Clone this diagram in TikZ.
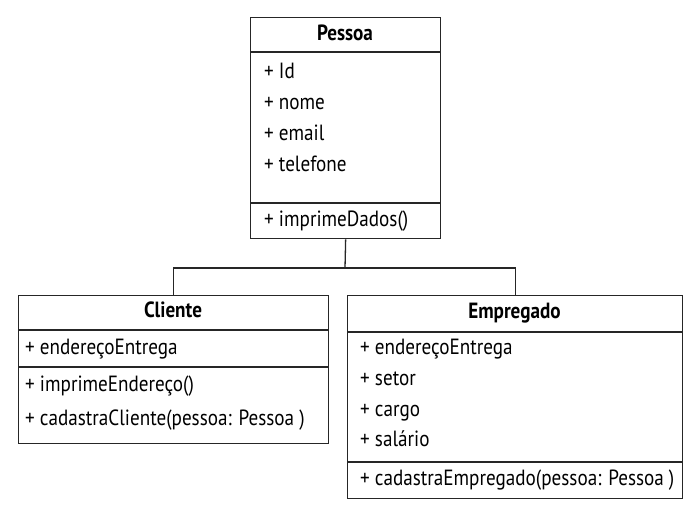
\documentclass[tikz,border=0pt]{standalone}
\usepackage{fontspec}
\setmainfont[FakeStretch=0.87]{PT Sans}
\begin{document}
\begin{tikzpicture}[x=1pt,y=-1pt,
  classbox/.style={draw=black!85, line width=1.3pt, anchor=north west, inner sep=0pt},
  divider/.style={draw=black!85, line width=1.1pt},
  conn/.style={draw=black!85, line width=1.3pt},
  title/.style={font=\fontsize{22}{26}\selectfont\bfseries, anchor=center, inner sep=0pt, text height=15pt, text depth=4pt},
  item/.style={font=\fontsize{22}{26}\selectfont, anchor=west, inner sep=0pt, text height=15pt, text depth=4pt}]
\useasboundingbox[fill=white] (0,0) rectangle (693,513);
% Pessoa
\node[classbox, minimum width=190pt, minimum height=221pt] (pessoa) at (250,17) {};
\draw[divider] (250,52) -- (440,52);
\draw[divider] (250,203) -- (440,203);
\node[title] (pt) at (345,35) {Pessoa};
\node[item] (p1) at (264,73) {+ Id};
\node[item] (p2) at (264,104) {+ nome};
\node[item] (p3) at (264,135) {+ email};
\node[item] (p4) at (264,166) {+ telefone};
\node[item] (p5) at (264,221) {+ imprimeDados()};
% Cliente
\node[classbox, minimum width=310pt, minimum height=148pt] (cliente) at (18,295) {};
\draw[divider] (18,330) -- (328,330);
\draw[divider] (18,367) -- (328,367);
\node[title] (ct) at (173,312) {Cliente};
\node[item] (c1) at (25,349) {+ endereçoEntrega};
\node[item] (c2) at (25,386) {+ imprimeEndereço()};
\node[item] (c3) at (25,420) {+ cadastraCliente(pessoa: Pessoa )};
% Empregado
\node[classbox, minimum width=335pt, minimum height=203pt] (empregado) at (347,295) {};
\draw[divider] (347,332) -- (682,332);
\draw[divider] (347,462) -- (682,462);
\node[title] (et) at (514.5,313) {Empregado};
\node[item] (e1) at (360,349) {+ endereçoEntrega};
\node[item] (e2) at (360,380) {+ setor};
\node[item] (e3) at (360,411) {+ cargo};
\node[item] (e4) at (360,441) {+ salário};
\node[item] (e5) at (360,480) {+ cadastraEmpregado(pessoa: Pessoa )};
% connectors
\coordinate (j) at (345,268);
\draw[conn] (pessoa.south) -- (j);
\draw[conn] (cliente.north) |- (j) -| (empregado.north);
\end{tikzpicture}
\end{document}
